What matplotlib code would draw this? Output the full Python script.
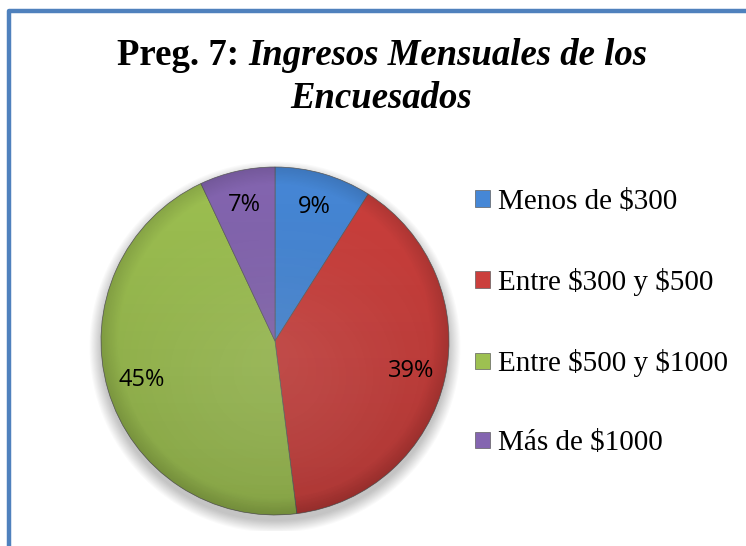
import numpy as np
import matplotlib.pyplot as plt
from matplotlib.patches import Circle, Rectangle

plt.rcParams['text.parse_math'] = False  # para que los $ se muestren tal cual

# datos de la pregunta 7
categorias = ['Menos de $300', 'Entre $300 y $500', 'Entre $500 y $1000', 'Más de $1000']
porcentajes = [9, 39, 45, 7]
colores = ['#4687D6', '#CB3F3C', '#9DC051', '#8465B0']
titulo_1 = 'Preg. 7: '
titulo_2 = 'Ingresos Mensuales de los'
titulo_3 = 'Encuesados'

W, H = 746, 546
fig = plt.figure(figsize=(W / 100, H / 100), dpi=100)
fig.patch.set_facecolor('white')

# borde azul (solo arriba e izquierda visibles)
fig.add_artist(Rectangle((9 / W, -0.1), 1.2, (H - 11) / H + 0.1, transform=fig.transFigure,
                         fill=False, edgecolor='#4F81BD', linewidth=3.2, joinstyle='round'))

# ejes del pastel: centro (275, 341), radio 174 px
cx, cy, r = 275, 341, 174
m = 190
ax = fig.add_axes([(cx - m) / W, (H - cy - m) / H, 2 * m / W, 2 * m / H])
lim = m / r
ax.set_aspect('equal')
ax.axis('off')

# sombra suave
for k in range(12):
    ax.add_patch(Circle((0.0, -0.035), 1.0 + 0.006 * k, color='black', alpha=0.018, zorder=0, lw=0))

wedges, textos, pct = ax.pie(porcentajes, colors=colores, startangle=90, counterclock=False,
                             autopct='%1.0f%%', pctdistance=0.8, radius=1.0,
                             wedgeprops=dict(edgecolor='#606060', linewidth=0.5, zorder=2),
                             textprops=dict(fontsize=17, family='Open Sans', color='black'))
for t in pct:
    t.set_zorder(5)

# degradado para el efecto de relieve
yy, xx = np.mgrid[-1:1:300j, -1:1:300j]
rr = np.sqrt(xx ** 2 + yy ** 2)
luz = -yy * 0.5 + 0.5
shade = np.zeros((300, 300, 4))
shade[..., 3] = np.clip(0.15 * (1 - luz) + 0.12 * np.clip((rr - 0.9) / 0.1, 0, 1), 0, 0.3)
img = ax.imshow(shade, extent=(-1, 1, -1, 1), origin='upper', zorder=3)
img.set_clip_path(Circle((0, 0), 1.0, transform=ax.transData))
hl = np.zeros((300, 300, 4))
hl[..., :3] = 1.0
hl[..., 3] = np.clip(0.18 * luz * (1 - rr), 0, 0.2)
img2 = ax.imshow(hl, extent=(-1, 1, -1, 1), origin='lower', zorder=3)
img2.set_clip_path(Circle((0, 0), 1.0, transform=ax.transData))
ax.set_xlim(-lim, lim)
ax.set_ylim(-lim, lim)

# leyenda
leg = fig.legend(wedges, categorias, loc='upper left', bbox_to_anchor=(475 / W, (H - 189) / H),
                 frameon=False, prop=dict(family='Liberation Serif', size=21),
                 handlelength=0.5, handleheight=0.5, handletextpad=0.28, labelspacing=1.82,
                 borderaxespad=0, borderpad=0)

# título con partes en negrita y negrita cursiva
fs = 26.5
t1 = fig.text(0, (H - 65) / H, titulo_1, fontsize=fs, family='Liberation Serif', weight='bold', va='baseline')
t2 = fig.text(0, (H - 65) / H, titulo_2, fontsize=fs, family='Liberation Serif', weight='bold',
              style='italic', va='baseline')
fig.text(381 / W, (H - 108) / H, titulo_3, fontsize=fs, family='Liberation Serif', weight='bold',
         style='italic', va='baseline', ha='center')
fig.canvas.draw()
rend = fig.canvas.get_renderer()
w1 = t1.get_window_extent(rend).width
w2 = t2.get_window_extent(rend).width
x0 = 382 - (w1 + w2) / 2
t1.set_x(x0 / W)
t2.set_x((x0 + w1) / W)

fig.savefig('out.png', dpi=100)
